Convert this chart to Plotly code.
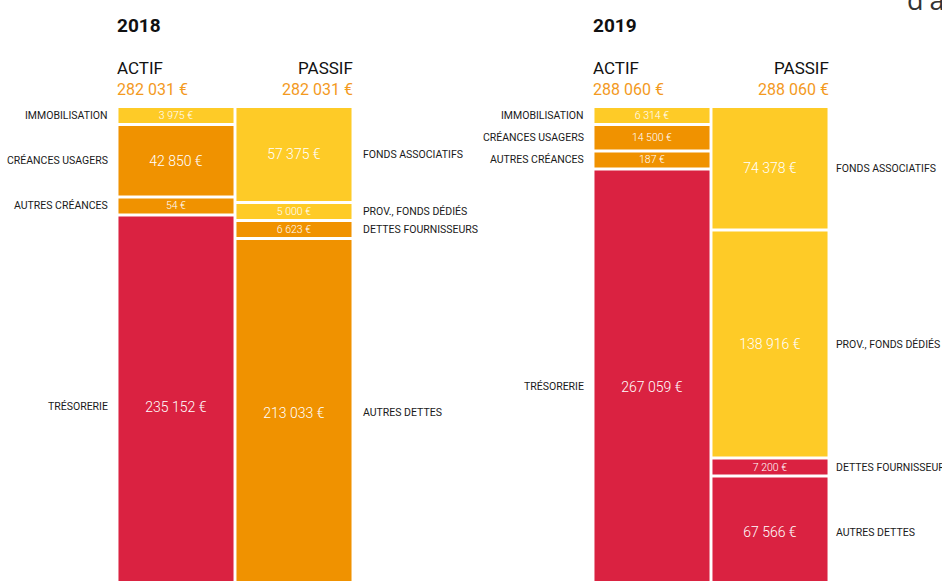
import plotly.graph_objects as go

# ---------------- data ----------------
years = ["2018", "2019"]

actif_labels = ["IMMOBILISATION", "CRÉANCES USAGERS", "AUTRES CRÉANCES", "TRÉSORERIE"]
passif_labels = ["FONDS ASSOCIATIFS", "PROV., FONDS DÉDIÉS", "DETTES FOURNISSEURS", "AUTRES DETTES"]

actif_2018 = [3975, 42850, 54, 235152]
passif_2018 = [57375, 5000, 6623, 213033]
actif_2019 = [6314, 14500, 187, 267059]
passif_2019 = [74378, 138916, 7200, 67566]

total_2018 = 282031
total_2019 = 288060

actif_colors_2018 = ["yellow", "orange", "orange", "red"]
passif_colors_2018 = ["yellow", "yellow", "orange", "orange"]
actif_colors_2019 = ["yellow", "orange", "orange", "red"]
passif_colors_2019 = ["yellow", "yellow", "red", "red"]

# ---------------- style ----------------
PALETTE = {"yellow": "#FECB27", "orange": "#F09200", "red": "#DA2241"}
TOTAL_COLOR = "#F39A1E"
W, H = 942, 581
PX_PER_EUR = 0.00162         # vertical scale
MIN_PX = 15                  # minimum visible height of a block
GAP_PX = 3                   # white gap between blocks
TOP_PX = 108                 # top of the blocks

COND = "Roboto, Liberation Sans, sans-serif"
THIN = "Roboto, Liberation Sans, sans-serif"


def fmt(v):
    return f"{v:,}".replace(",", " ") + " €"


def layout_stack(values):
    min_val = MIN_PX / PX_PER_EUR
    gap = GAP_PX / PX_PER_EUR
    heights = [max(v, min_val) for v in values]
    bases, cur = [], 0.0
    for h in heights:
        bases.append(cur)
        cur += h + gap
    return bases, heights


fig = go.Figure()
annotations = []

columns = [
    ("x", "ACTIF", actif_2018, actif_colors_2018, actif_labels, "left"),
    ("x", "PASSIF", passif_2018, passif_colors_2018, passif_labels, "right"),
    ("x2", "ACTIF", actif_2019, actif_colors_2019, actif_labels, "left"),
    ("x2", "PASSIF", passif_2019, passif_colors_2019, passif_labels, "right"),
]

for xa, col, vals, cols, labels, side in columns:
    bases, heights = layout_stack(vals)
    sizes = [14 if h * PX_PER_EUR >= 40 else 10.5 for h in heights]
    fig.add_trace(go.Bar(
        x=[col] * len(vals), y=heights, base=bases,
        xaxis=xa, yaxis="y", width=0.975,
        marker=dict(color=[PALETTE[c] for c in cols], line=dict(width=0)),
        text=[fmt(v) for v in vals], textposition="inside",
        insidetextanchor="middle", constraintext="none", textangle=0,
        textfont=dict(color="white", size=sizes, family=THIN, weight=300),
        hoverinfo="skip", showlegend=False,
    ))
    for b, h, lab in zip(bases, heights, labels):
        if side == "left":
            annotations.append(dict(
                xref=xa, yref="y", x=-0.5, y=b + h / 2, text=lab,
                xanchor="right", yanchor="middle", xshift=-7, showarrow=False,
                font=dict(family=COND, size=10.5, color="#1a1a1a")))
        else:
            annotations.append(dict(
                xref=xa, yref="y", x=1.5, y=b + h / 2, text=lab,
                xanchor="left", yanchor="middle", xshift=8 if xa == "x" else 5,
                showarrow=False,
                font=dict(family=COND, size=10.5, color="#1a1a1a")))

# headers
for xa, yr, tot in [("x", years[0], total_2018), ("x2", years[1], total_2019)]:
    annotations.append(dict(xref=xa, yref="paper", x=-0.5, y=1 - 25 / H, text=f"<b>{yr}</b>",
                            xanchor="left", yanchor="middle", showarrow=False, xshift=-2,
                            font=dict(family=COND, size=19, color="#111")))
    annotations.append(dict(xref=xa, yref="paper", x=-0.5, y=1 - 68 / H, text="ACTIF",
                            xanchor="left", yanchor="middle", showarrow=False, xshift=-2,
                            font=dict(family=COND, size=17, color="#111")))
    annotations.append(dict(xref=xa, yref="paper", x=-0.5, y=1 - 90 / H, text=fmt(tot),
                            xanchor="left", yanchor="middle", showarrow=False, xshift=-2,
                            font=dict(family=COND, size=16, color=TOTAL_COLOR)))
    annotations.append(dict(xref=xa, yref="paper", x=1.5, y=1 - 68 / H, text="PASSIF",
                            xanchor="right", yanchor="middle", showarrow=False, xshift=2,
                            font=dict(family=COND, size=17, color="#111")))
    annotations.append(dict(xref=xa, yref="paper", x=1.5, y=1 - 90 / H, text=fmt(tot),
                            xanchor="right", yanchor="middle", showarrow=False, xshift=2,
                            font=dict(family=COND, size=16, color=TOTAL_COLOR)))

# cut-off text fragment at the top right
annotations.append(dict(xref="paper", yref="paper", x=905 / W, y=1 - 20 / H, text="d'a",
                        xanchor="left", yanchor="bottom", showarrow=False,
                        font=dict(family="Open Sans, sans-serif", size=27, color="#333")))

axis_common = dict(visible=False, showgrid=False, zeroline=False, range=[-0.5, 1.5],
                   type="category", categoryorder="array", categoryarray=["ACTIF", "PASSIF"])

fig.update_layout(
    width=W, height=H,
    margin=dict(l=0, r=0, t=0, b=0),
    paper_bgcolor="white", plot_bgcolor="white",
    barmode="overlay",
    xaxis=dict(domain=[117 / W, 353 / W], anchor="y", **axis_common),
    xaxis2=dict(domain=[593 / W, 829 / W], anchor="y", **axis_common),
    yaxis=dict(visible=False, showgrid=False, zeroline=False, domain=[0, 1],
               range=[(H - TOP_PX) / PX_PER_EUR, -TOP_PX / PX_PER_EUR]),
    annotations=annotations,
)

fig.write_html("out.html", config={"displayModeBar": False},
               post_script="document.body.style.margin='0';document.body.style.padding='0';"
                           "document.body.style.overflow='hidden';")
